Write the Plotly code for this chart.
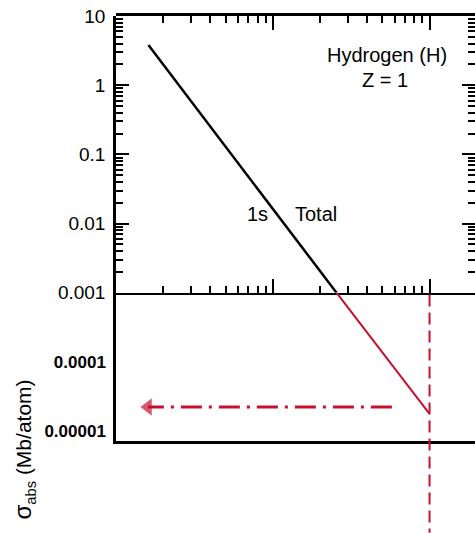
import plotly.graph_objects as go

# Photoabsorption cross section of hydrogen (log-log), energies in eV, sigma in Mb/atom
total_energy = [16.1, 255]
total_sigma = [3.8, 0.001]

# Extrapolation of the same power law beyond the plotted range
extrap_energy = [255, 1000]
extrap_sigma = [0.001, 1.75e-5]

# Read-off arrow toward the cross-section axis
arrow_energy = [575, 16.0]
arrow_sigma = [2.2e-5, 2.2e-5]

# Energy marked by the vertical guide
guide_energy = 1000

upper_ticks = [0.001, 0.01, 0.1, 1, 10]
upper_labels = ["0.001", "0.01", "0.1", "1", "10"]
lower_ticks = [1e-5, 1e-4]
lower_labels = ["0.00001", "0.0001"]
energy_major = [10, 100, 1000]

RED = "#c8102e"
FONT = "Liberation Sans, Arial, Helvetica, sans-serif"

energy_minor = [m * d for d in (10, 100, 1000) for m in range(2, 10)]
sigma_minor = [m * d for d in (0.001, 0.01, 0.1, 1) for m in range(2, 10)]

split = 0.349  # boundary between the framed panel and the extension below
xrange_log = [1, 3.29]
yrange_upper = [-3, 1]

fig = go.Figure()

fig.add_trace(go.Scatter(
    x=total_energy, y=total_sigma, mode="lines",
    line=dict(color="black", width=2.5), xaxis="x", yaxis="y",
    showlegend=False, hoverinfo="skip", cliponaxis=False,
))
fig.add_trace(go.Scatter(
    x=extrap_energy, y=extrap_sigma, mode="lines",
    line=dict(color=RED, width=2), xaxis="x2", yaxis="y2",
    showlegend=False, hoverinfo="skip", cliponaxis=False,
))
fig.add_trace(go.Scatter(
    x=arrow_energy, y=arrow_sigma, mode="lines+markers",
    line=dict(color=RED, width=3, dash="21px,7px,3px,7px"),
    marker=dict(symbol="triangle-left", size=[0, 15], color=RED, line=dict(width=0)),
    xaxis="x2", yaxis="y2", showlegend=False, hoverinfo="skip",
))
# the total curve again, invisibly, on the frame's top/right tick axes
fig.add_trace(go.Scatter(
    x=total_energy, y=total_sigma, mode="markers",
    marker=dict(opacity=0, size=1), xaxis="x3", yaxis="y3",
    showlegend=False, hoverinfo="skip",
))

fig.add_shape(
    type="line", xref="x2", yref="paper",
    x0=guide_energy, x1=guide_energy, y0=split - 0.004, y1=-0.216,
    line=dict(color=RED, width=2, dash="12px,6px"),
)

axis_common = dict(
    type="log", showgrid=False, zeroline=False, automargin=False,
    linecolor="black", color="black",
)
tick_common = dict(ticks="inside", tickwidth=1.5, tickcolor="black", tickmode="array")


def minor_ticks(vals):
    return dict(tickmode="array", tickvals=vals, ticks="inside",
                ticklen=7, tickwidth=1.5, tickcolor="black", showgrid=False)


fig.update_layout(
    width=475, height=533,
    margin=dict(l=116, r=0, t=16, b=92),
    paper_bgcolor="white", plot_bgcolor="rgba(0,0,0,0)",
    font=dict(family=FONT, color="black", size=19),
    xaxis=dict(
        **axis_common, **tick_common, range=xrange_log, anchor="y", domain=[0, 1],
        showline=True, linewidth=2, ticklen=14,
        tickvals=energy_major, showticklabels=False,
        minor=minor_ticks(energy_minor),
    ),
    yaxis=dict(
        **axis_common, **tick_common, range=yrange_upper, anchor="x", domain=[split, 1],
        showline=True, linewidth=2.5, ticklen=13,
        tickvals=upper_ticks, ticktext=upper_labels,
        tickfont=dict(size=19, family=FONT), ticklabelstandoff=4,
        minor=minor_ticks(sigma_minor),
    ),
    xaxis3=dict(
        **axis_common, **tick_common, range=xrange_log, anchor="y3", domain=[0, 1],
        side="top", showline=True, linewidth=2.5, ticklen=14,
        tickvals=energy_major, showticklabels=False,
        minor=minor_ticks(energy_minor),
    ),
    yaxis3=dict(
        **axis_common, **tick_common, range=yrange_upper, anchor="x3", domain=[split, 1],
        side="right", showline=True, linewidth=2.5, ticklen=13,
        tickvals=upper_ticks, showticklabels=False,
        minor=minor_ticks(sigma_minor),
    ),
    xaxis2=dict(
        **axis_common, range=xrange_log, anchor="y2", domain=[0, 1],
        matches="x", showline=True, linewidth=2.5, ticks="",
        showticklabels=False,
    ),
    yaxis2=dict(
        **axis_common, range=[-5.15, -3], anchor="x2", domain=[0, split],
        showline=True, linewidth=2.5, ticks="",
        tickmode="array", tickvals=lower_ticks,
        ticktext=["<b>%s</b>" % t for t in lower_labels],
        tickfont=dict(size=17, family=FONT), ticklabelstandoff=4,
    ),
)

notes = [
    ("Hydrogen (H)", 0.755, 0.908),
    ("Z = 1", 0.749, 0.849),
    ("1s", 0.393, 0.534),
    ("Total", 0.557, 0.534),
]
for text, px, py in notes:
    fig.add_annotation(
        text=text, xref="paper", yref="paper", x=px, y=py,
        xanchor="center", yanchor="middle", showarrow=False,
        font=dict(size=20, family=FONT, color="black"),
    )

fig.add_annotation(
    text='<span style="font-size:24px">σ</span><sub>abs</sub> (Mb/atom)',
    xref="paper", yref="paper", x=-0.258, y=-0.019,
    xanchor="center", yanchor="middle", textangle=-90, showarrow=False,
    font=dict(size=21, family=FONT, color="black"),
)

fig.write_html("out.html")
